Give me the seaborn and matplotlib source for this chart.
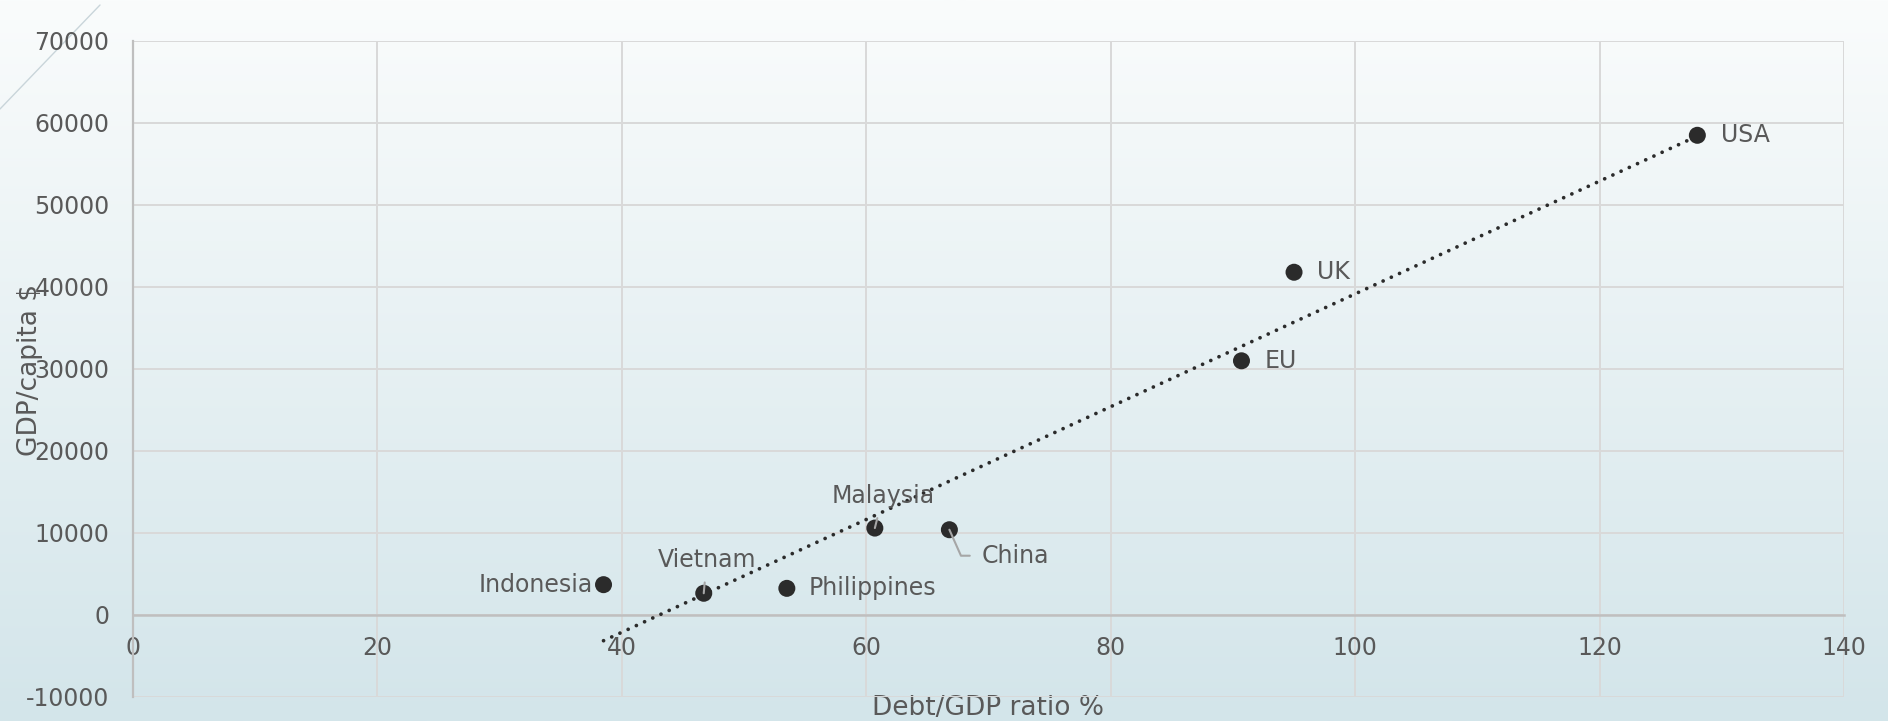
import numpy as np
import pandas as pd
import matplotlib
matplotlib.use("Agg")
import matplotlib.pyplot as plt
import seaborn as sns
from matplotlib.colors import LinearSegmentedColormap
from matplotlib.lines import Line2D

# ---------------- data ----------------
countries = ["Indonesia", "Vietnam", "Philippines", "Malaysia", "China", "EU", "UK", "USA"]
debt_ratio = [38.5, 46.7, 53.5, 60.7, 66.8, 90.7, 95.0, 128.0]
gdp_per_capita = [3700, 2650, 3250, 10600, 10400, 31000, 41800, 58500]
x_ticks = [0, 20, 40, 60, 80, 100, 120, 140]
y_ticks = [-10000, 0, 10000, 20000, 30000, 40000, 50000, 60000, 70000]
x_label = "Debt/GDP ratio %"
y_label = "GDP/capita $"

df = pd.DataFrame({"country": countries, "debt": debt_ratio, "gdp": gdp_per_capita})

# ---------------- style ----------------
sns.set_theme(style="white")
plt.rcParams["font.family"] = ["DejaVu Sans"]
TXT = "#595959"
DARK = "#2b2b2b"
GRID = "#d9d9d9"
AXIS = "#bfbfbf"
FS = 16

W, H = 1888, 721
fig = plt.figure(figsize=(W / 100, H / 100), dpi=100)

# background gradient
bg = fig.add_axes([0, 0, 1, 1], zorder=-10)
grad = np.linspace(0, 1, 256).reshape(-1, 1)
cmap = LinearSegmentedColormap.from_list("bg", ["#fafcfc", "#d3e5ea"])
bg.imshow(grad, aspect="auto", cmap=cmap, extent=[0, 1, 0, 1], origin="upper")
bg.set_xlim(0, 1)
bg.set_ylim(0, 1)
bg.axis("off")

# decorative diagonal line top-left
bg.add_line(Line2D([0, 100 / W], [1 - 109 / H, 1 - 5 / H], color="#c9d5da", lw=1.0))

left, right, top, bottom = 133, 1844, 41, 697
ax = fig.add_axes([left / W, 1 - bottom / H, (right - left) / W, (bottom - top) / H])
ax.set_facecolor("none")

sns.regplot(data=df, x="debt", y="gdp", ax=ax, scatter=False, ci=None, truncate=True,
            line_kws=dict(color=DARK, lw=2.7, ls=(0, (0.01, 2.4)),
                          dash_capstyle="round", zorder=3))
sns.scatterplot(data=df, x="debt", y="gdp", ax=ax, s=150, color=DARK,
                edgecolor="none", zorder=5, legend=False)

ax.set_xlim(x_ticks[0], x_ticks[-1])
ax.set_ylim(y_ticks[0], y_ticks[-1])
ax.set_xticks(x_ticks)
ax.set_yticks(y_ticks)
ax.set_xticklabels([str(t) for t in x_ticks])
ax.set_yticklabels([str(t) for t in y_ticks])
ax.grid(True, color=GRID, lw=1.4)
ax.set_axisbelow(True)

for s in ["top", "right"]:
    ax.spines[s].set_visible(False)
ax.spines["bottom"].set_position(("data", 0))
ax.spines["bottom"].set_color(AXIS)
ax.spines["bottom"].set_linewidth(1.8)
ax.spines["left"].set_color(AXIS)
ax.spines["left"].set_linewidth(1.6)

ax.tick_params(axis="both", length=0, labelsize=FS + 1, labelcolor=TXT)
ax.tick_params(axis="x", pad=15)
ax.tick_params(axis="y", pad=17)

ax.set_xlabel(x_label, fontsize=FS + 3, color=TXT)
ax.xaxis.label.set_va("center")
ax.xaxis.set_label_coords(0.5, (bottom - 708) / (bottom - top))
ax.set_ylabel(y_label, fontsize=FS + 3, color=TXT)
ax.yaxis.label.set_va("center")
ax.yaxis.set_label_coords((30.5 - left) / (right - left), (bottom - 370) / (bottom - top))

# ---------------- data labels ----------------
# (dx, dy) in pixels, ha, va, leader line
placement = {
    "Indonesia": ((-11, 0), "right", "center", None),
    "Vietnam": ((3, 33), "center", "center", "straight"),
    "Philippines": ((22, 0), "left", "center", None),
    "Malaysia": ((8, 32), "center", "center", "straight"),
    "China": ((32, -26), "left", "center", "elbow"),
    "EU": ((23, 0), "left", "center", None),
    "UK": ((23, 0), "left", "center", None),
    "USA": ((24, 0), "left", "center", None),
}
for _, row in df.iterrows():
    (dx, dy), ha, va, leader = placement[row["country"]]
    kw = {}
    if leader == "straight":
        kw["arrowprops"] = dict(arrowstyle="-", color="#a6a6a6", lw=1.5,
                                shrinkA=5, shrinkB=0)
    elif leader == "elbow":
        kw["arrowprops"] = dict(arrowstyle="-", color="#a6a6a6", lw=1.5,
                                shrinkA=6, shrinkB=0, relpos=(0, 0.5),
                                connectionstyle="angle,angleA=180,angleB=-66,rad=0")
    ax.annotate(row["country"], xy=(row["debt"], row["gdp"]), xytext=(dx, dy),
                textcoords="offset pixels", ha=ha, va=va, fontsize=FS + 1, color=TXT,
                zorder=6, **kw)

fig.savefig("out.png", dpi=100)
